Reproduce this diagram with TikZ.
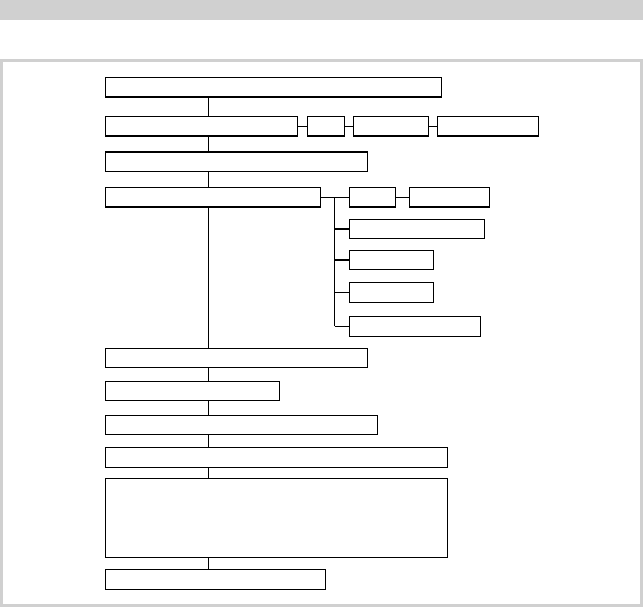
\documentclass[tikz,border=0pt]{standalone}
\usepackage{tikz}
\usetikzlibrary{positioning}

\definecolor{framegray}{RGB}{208,208,208}

\begin{document}
\begin{tikzpicture}[x=1pt,y=-1pt,
    blk/.style={draw, line width=1.3pt, anchor=north west, inner sep=0pt, minimum height=19.5pt},
    lnk/.style={line width=1.3pt}]
            \useasboundingbox (0,0) rectangle (643,607);
            \fill[framegray] (0,0) rectangle (643,20);
            \draw[framegray, line width=2.5pt] (1.5,60.5) rectangle (641.5,605.5);

            \node(b1) [blk, minimum width=336pt] at (105,77) {};
            \node(b2) [blk, minimum width=192pt] at (105,116) {};
            \node(b2a) [blk, minimum width=37pt] at (306.5,116) {};
            \node(b2b) [blk, minimum width=75pt] at (352.5,116) {};
            \node(b2c) [blk, minimum width=101pt] at (436.5,116) {};
            \node(b3) [blk, minimum width=261.5pt] at (105,151.5) {};
            \node(b4) [blk, minimum width=215pt] at (105,187) {};
            \node(b4a) [blk, minimum width=46.5pt] at (348.5,187) {};
            \node(b4b) [blk, minimum width=80.5pt] at (408.5,187) {};
            \node(b5a) [blk, minimum width=135pt] at (348.5,218.5) {};
            \node(b5b) [blk, minimum width=84pt] at (348.5,249.5) {};
            \node(b5c) [blk, minimum width=84pt] at (348.5,282) {};
            \node(b5d) [blk, minimum width=131pt] at (348.5,316) {};
            \node(b6) [blk, minimum width=261.5pt] at (105,347.5) {};
            \node(b7) [blk, minimum width=173.5pt] at (105,380.5) {};
            \node(b8) [blk, minimum width=271.5pt] at (105,414.5) {};
            \node(b9) [blk, minimum width=341.5pt, minimum height=20pt] at (105,446.5) {};
            \node(b10) [blk, minimum width=341.5pt, minimum height=79pt] at (105,477.5) {};
            \node(b11) [blk, minimum width=220pt, minimum height=20pt] at (105,569) {};

            \coordinate(trunk) at (208.5,0);
            \coordinate(bus) at (334.5,0);

            \foreach \a/\b in {b1/b2, b2/b3, b3/b4, b4/b6, b6/b7, b7/b8, b8/b9, b9/b10, b10/b11}
                \draw[lnk] (\a.south -| trunk) -- (\b.north -| trunk);

            \draw[lnk] (b2.east) -- (b2a.west);
            \draw[lnk] (b2a.east) -- (b2b.west);
            \draw[lnk] (b2b.east) -- (b2c.west);
            \draw[lnk] (b4.east) -- (b4a.west);
            \draw[lnk] (b4a.east) -- (b4b.west);
            \draw[lnk] (b4.east -| bus) -- (b5d.west -| bus);
            \foreach \n in {b5a, b5b, b5c, b5d}
                \draw[lnk] (\n.west -| bus) -- (\n.west);
        \end{tikzpicture}
\end{document}
